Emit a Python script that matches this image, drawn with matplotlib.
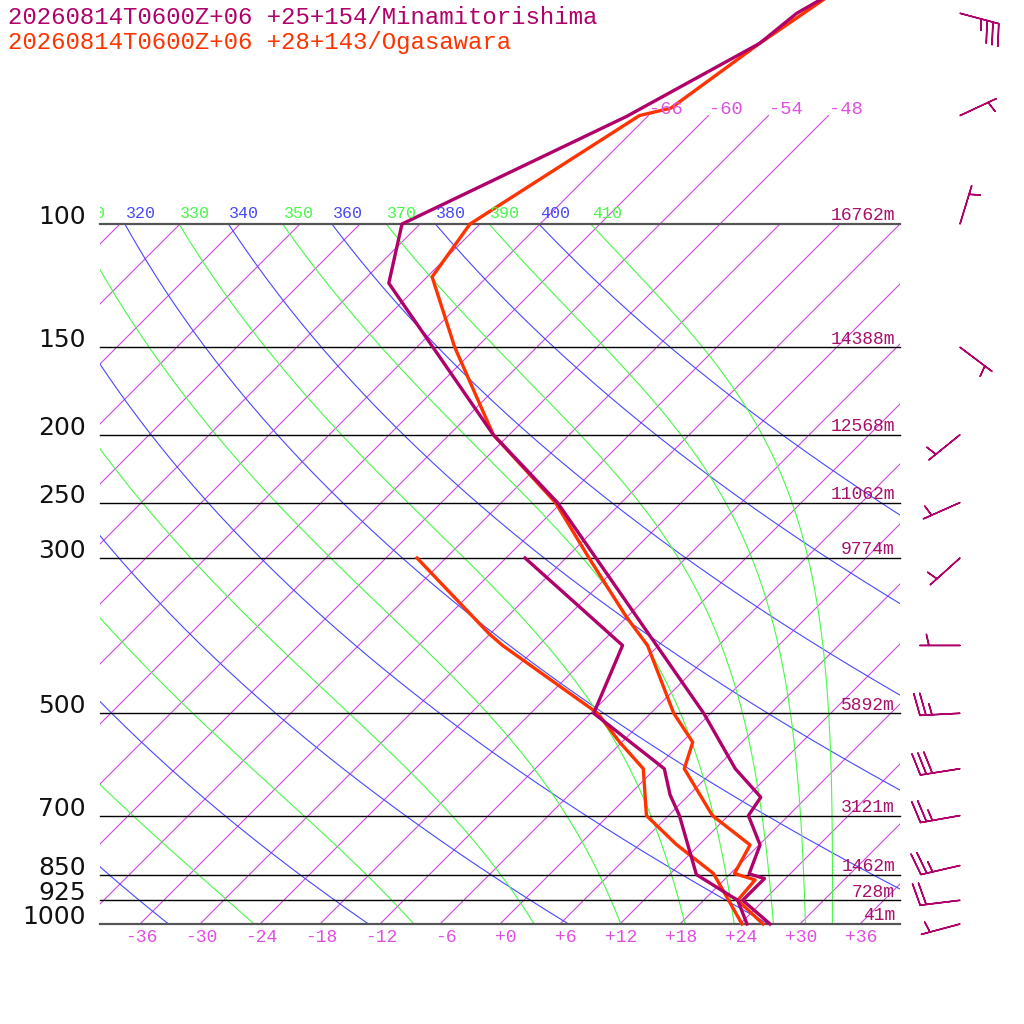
import numpy as np
import matplotlib.pyplot as plt
from matplotlib.patches import Rectangle

# standard pressure levels and their heights (Minamitorishima)
levels = [1000, 925, 850, 700, 500, 300, 250, 200, 150, 100]
heights = ['41m', '728m', '1462m', '3121m', '5892m', '9774m', '11062m', '12568m', '14388m', '16762m']

# Minamitorishima sounding
mina_p = [1000, 925, 861, 848, 771, 700, 659, 600, 500, 250, 200, 121.5, 100, 70.2, 55.2, 50, 40]
mina_t = [27.0, 21.9, 21.9, 19.9, 18.1, 14.0, 13.4, 8.0, -0.7, -36.4, -49.6, -75.2, -79.8, -68.1, -62.1, -61.4, -56.3]
mina_dp = [1000, 925, 850, 700, 654, 600, 500, 400, 300]
mina_td = [24.7, 21.4, 14.7, 7.1, 4.1, 0.9, -11.7, -15.6, -34.1]

# Ogasawara sounding
oga_p = [1000, 925, 865, 847, 771, 700, 600, 550, 500, 400, 364, 300, 250, 200, 150, 119, 100, 70, 68.3, 55.2, 40]
oga_t = [26.3, 21.4, 21.1, 18.4, 17.1, 10.4, 2.9, 1.1, -3.7, -13.1, -18.1, -27.7, -36.6, -49.6, -62.2, -71.5, -73.0, -66.9, -64.5, -62.1, -57.6]
oga_dp = [1000, 847, 770, 700, 600, 550, 500, 400, 385, 300]
oga_td = [24.2, 16.3, 9.7, 3.8, -1.2, -6.2, -11.3, -27.6, -30.1, -44.9]

# winds (Minamitorishima)
wind_p = [50, 70, 100, 150, 200, 250, 300, 400, 500, 600, 700, 825, 925, 1000]
wind_dir = [105, 65, 17, 127, 231, 246, 228, 270, 267, 261, 260, 257, 263, 255]
wind_spd = [35, 5, 5, 5, 5, 5, 5, 5, 25, 30, 25, 25, 20, 5]

dry_thetas = list(range(240, 401, 20))
moist_thetas = list(range(250, 411, 20))
isotherms = list(range(-114, 41, 6))
top_isotherms = [-66, -60, -54, -48]
t_ticks = list(range(-36, 37, 6))

purple = '#b0006a'
orange = '#ff3300'
blue = '#4848ff'
green = '#48f848'
magenta = '#d048e0'
mono = 'Liberation Mono'

SKEW = 70.0


def skew(t, p):
    return np.asarray(t) + SKEW * np.log10(1000.0 / np.asarray(p))


def theta_e(tc, p):
    # Bolton (1980), saturated parcel
    tk = tc + 273.15
    es = 6.112 * np.exp(17.67 * tc / (tc + 243.5))
    r = 622.0 * es / np.maximum(p - es, 1.0)
    th = tk * (1000.0 / p) ** (0.2854 * (1 - 0.28e-3 * r))
    return th * np.exp((3.376 / tk - 0.00254) * r * (1 + 0.81e-3 * r))


def moist_t(the, p):
    lo = np.full_like(p, -160.0)
    hi = np.full_like(p, 40.0)
    for _ in range(60):
        mid = (lo + hi) / 2
        big = theta_e(mid, p) > the
        hi = np.where(big, mid, hi)
        lo = np.where(big, lo, mid)
    return (lo + hi) / 2


fig = plt.figure(figsize=(10.24, 10.24), dpi=100)
ax = fig.add_axes([0, 0, 1, 1])
ax.set_yscale('log')
ax.set_xlim(-50, 52.4)
ax.set_ylim(1000 * 10 ** (100 / 700), 1000 * 10 ** (-924 / 700))
ax.set_axis_off()

box = Rectangle((-40, 100), 80, 900, transform=ax.transData)
left_cut = Rectangle((-40, 30), 120, 2000, transform=ax.transData)

pp = np.logspace(np.log10(1000), np.log10(100), 200)

# isotherms
for t in isotherms:
    ln, = ax.plot(skew([t, t], [1000, 100]), [1000, 100], color=magenta, lw=0.8)
    ln.set_clip_path(box)
for t in top_isotherms:
    ax.plot(skew([t, t], [100, 70]), [100, 70], color=magenta, lw=0.8)
    ax.annotate('%+d' % t, (skew(t, 70), 70), xytext=(1, 6), textcoords='offset pixels',
                ha='left', va='center', color='#e050e0', fontsize=13.5, family=mono)

# dry adiabats
for th in dry_thetas:
    tt = th * (pp / 1000) ** 0.286 - 273.15
    ln, = ax.plot(skew(tt, pp), pp, color=blue, lw=0.8)
    ln.set_clip_path(box)
    txt = ax.annotate(str(th), (skew(tt[-1], 100), 100), xytext=(1, 11), textcoords='offset pixels',
                      ha='left', va='center', color=blue, fontsize=12, family=mono)
    txt.set_clip_path(left_cut)

# moist adiabats
for th in moist_thetas:
    tt = moist_t(th, pp)
    ln, = ax.plot(skew(tt, pp), pp, color=green, lw=0.8)
    ln.set_clip_path(box)
    txt = ax.annotate(str(th), (skew(tt[-1], 100), 100), xytext=(1, 11), textcoords='offset pixels',
                      ha='left', va='center', color=green, fontsize=12, family=mono)
    txt.set_clip_path(left_cut)

# isobars
for p, h in zip(levels, heights):
    edge = p in (100, 1000)
    ax.plot([-40, 40], [p, p], color='#555555' if edge else 'black', lw=1.6 if edge else 1.0)
    ax.annotate(str(p), (-40, p), xytext=(-14, 0), textcoords='offset pixels',
                ha='right', va='baseline', fontsize=18, color='#111111')
    ax.annotate(h, (40, p), xytext=(-5, 8), textcoords='offset pixels',
                ha='right', va='center', fontsize=13, color='#a8106a', family=mono)

# temperature ticks
for t in t_ticks:
    ax.annotate('%+d' % t, (t, 1000), xytext=(17, -13), textcoords='offset pixels',
                ha='right', va='center', fontsize=13, color='#e050e0', family=mono)

# soundings
ax.plot(skew(oga_t, oga_p), oga_p, color=orange, lw=2.4, clip_on=False)
ax.plot(skew(oga_td, oga_dp), oga_dp, color=orange, lw=2.4)
ax.plot(skew(mina_t, mina_p), mina_p, color=purple, lw=2.4, clip_on=False)
ax.plot(skew(mina_td, mina_dp), mina_dp, color=purple, lw=2.4)

# wind barbs
d = np.radians(wind_dir)
u = -np.array(wind_spd) * np.sin(d)
v = -np.array(wind_spd) * np.cos(d)
ax.barbs(np.full(len(wind_p), 46.0), wind_p, u, v, length=7.6, color=purple, linewidth=1.1,
         sizes=dict(spacing=0.15, height=0.55, width=0.25), clip_on=False)

fig.text(8 / 1024, 1 - 18 / 1024, '20260814T0600Z+06 +25+154/Minamitorishima',
         color=purple, fontsize=17.3, family=mono, ha='left', va='center')
fig.text(8 / 1024, 1 - 42 / 1024, '20260814T0600Z+06 +28+143/Ogasawara',
         color=orange, fontsize=17.3, family=mono, ha='left', va='center')

fig.savefig('out.png', dpi=100)
